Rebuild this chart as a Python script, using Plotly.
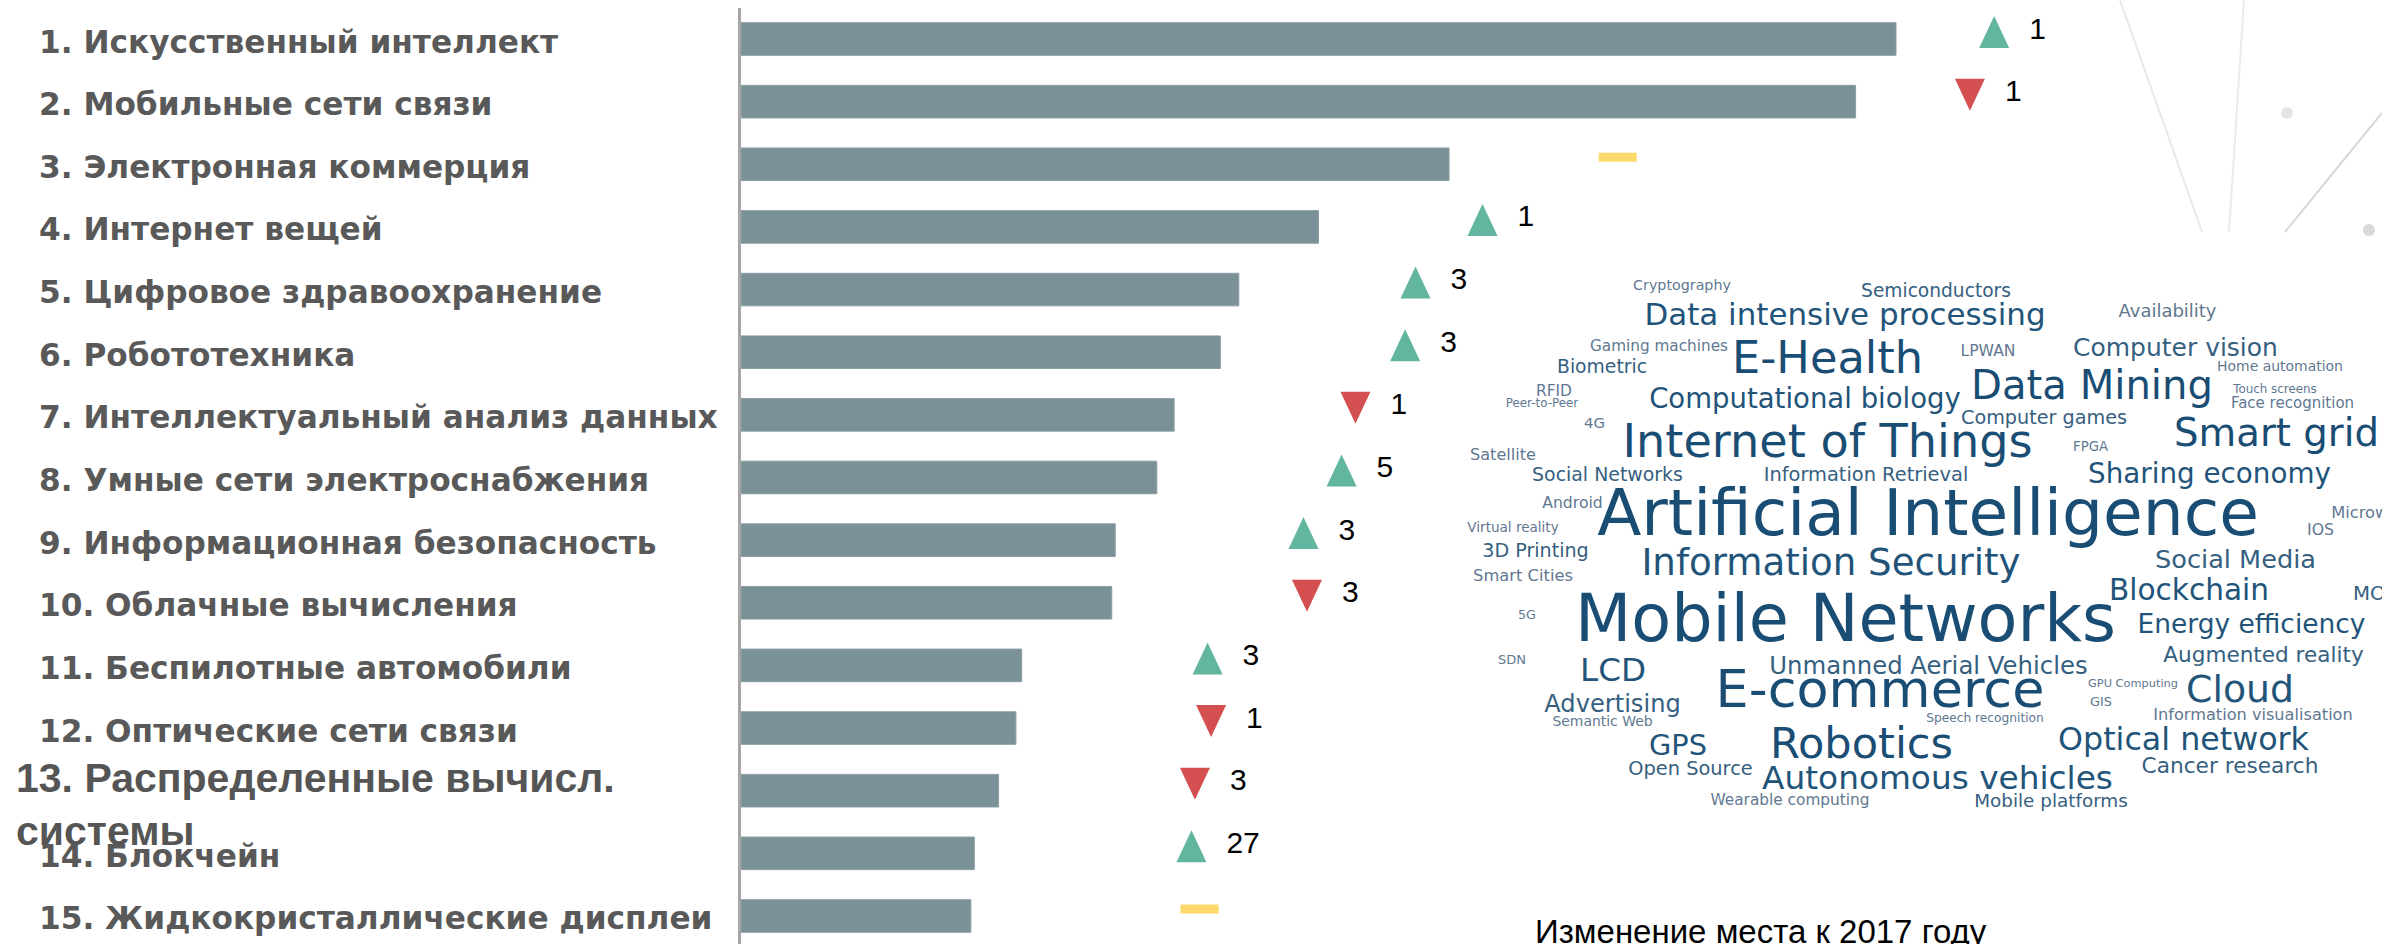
import plotly.graph_objects as go

# ---------------- data ----------------
categories = [
    "1. Искусственный интеллект",
    "2. Мобильные сети связи",
    "3. Электронная коммерция",
    "4. Интернет вещей",
    "5. Цифровое здравоохранение",
    "6. Робототехника",
    "7. Интеллектуальный анализ данных",
    "8. Умные сети электроснабжения",
    "9. Информационная безопасность",
    "10. Облачные вычисления",
    "11. Беспилотные автомобили",
    "12. Оптические сети связи",
    "13. Распределенные вычисл.<br>системы",
    "14. Блокчейн",
    "15. Жидкокристаллические дисплеи",
]
scores = [100.0, 96.5, 61.3, 50.0, 43.1, 41.5, 37.5, 36.0, 32.4, 32.1, 24.3, 23.8, 22.3, 20.2, 19.9]
rank_change = [1, -1, 0, 1, 3, 3, -1, 5, 3, -3, 3, -1, -3, 27, 0]

cloud_words = [
    "Cryptography", "Semiconductors", "Data intensive processing", "Availability",
    "Gaming machines", "E-Health", "LPWAN", "Computer vision", "Biometric",
    "Home automation", "RFID", "Peer-to-Peer", "Data Mining", "Computational biology",
    "Touch screens", "Face recognition", "Computer games", "4G", "Internet of Things",
    "FPGA", "Smart grid", "Satellite", "Social Networks", "Information Retrieval",
    "Sharing economy", "Android", "Artificial Intelligence", "Microwave",
    "Virtual reality", "IOS", "3D Printing", "Information Security", "Social Media",
    "Smart Cities", "Blockchain", "MOOC", "5G", "Mobile Networks", "Energy efficiency",
    "SDN", "LCD", "Unmanned Aerial Vehicles", "Augmented reality", "E-commerce",
    "GPU Computing", "Cloud", "Advertising", "GIS", "Semantic Web",
    "Speech recognition", "Information visualisation", "GPS", "Robotics",
    "Optical network", "Open Source", "Cancer research", "Autonomous vehicles",
    "Wearable computing", "Mobile platforms",
]

note_text = "Изменение места к 2017 году"

# ---------------- layout / styling ----------------
W, H = 2382, 944
X0_PX = 741      # pixel of the bar baseline
PX_X = 11.55     # pixels per score unit
ROW0_PX = 39     # pixel centre of first row
PX_Y = 62.64     # pixels per row

indicator_pos = [108.5, 106.4, 75.9, 64.2, 58.4, 57.5, 53.2, 52.0, 48.7, 49.0,
                 40.4, 40.7, 39.3, 39.0, 39.7]

# word-cloud boxes: (left px, right px, cap-centre px)
cloud_boxes = [
    (1633, 1731, 285), (1861, 2011, 290), (1644, 2046, 314), (2118, 2217, 310),
    (1590, 1728, 345), (1732, 1923, 357), (1960, 2016, 350), (2073, 2278, 347),
    (1557, 1647, 366), (2217, 2343, 366), (1536, 1572, 390), (1505, 1579, 403),
    (1971, 2213, 384), (1649, 1961, 398), (2232, 2318, 389), (2230, 2355, 403),
    (1961, 2127, 417), (1584, 1605, 423), (1622, 2033, 440), (2073, 2108, 446),
    (2174, 2379, 432), (1470, 1536, 454), (1532, 1683, 474), (1763, 1969, 474),
    (2088, 2331, 473), (1542, 1603, 502), (1597, 2259, 511), (2331, 2418, 512),
    (1467, 1559, 527), (2307, 2334, 529), (1482, 1589, 550), (1641, 2021, 561),
    (2155, 2316, 559), (1473, 1573, 575), (2109, 2269, 589), (2353, 2415, 593),
    (1518, 1536, 614), (1575, 2116, 617), (2137, 2366, 623), (1498, 1526, 659),
    (1580, 1646, 669), (1768, 2089, 665), (2163, 2364, 654), (1715, 2045, 688),
    (2088, 2178, 683), (2186, 2294, 688), (1544, 1681, 703), (2090, 2112, 701),
    (1552, 1653, 721), (1926, 2044, 718), (2153, 2353, 714), (1649, 1707, 744),
    (1769, 1954, 742), (2058, 2309, 738), (1628, 1753, 768), (2141, 2319, 765),
    (1762, 2113, 777), (1710, 1870, 799), (1974, 2128, 800),
]

BAR_COLOR = "#7a9198"
UP_COLOR = "#62b59f"
DOWN_COLOR = "#d44f4f"
FLAT_COLOR = "#fdd96c"
LABEL_COLOR = "#595959"

# approximate DejaVu Sans advance widths (em)
DV = {' ': .318, '-': .361, '.': .318,
      'A': .684, 'B': .686, 'C': .698, 'D': .770, 'E': .632, 'F': .575, 'G': .775,
      'H': .752, 'I': .295, 'K': .656, 'L': .557, 'M': .863, 'N': .748, 'O': .787,
      'P': .603, 'R': .695, 'S': .635, 'T': .611, 'U': .732, 'V': .684, 'W': .989,
      'a': .613, 'b': .635, 'c': .550, 'd': .635, 'e': .615, 'f': .352, 'g': .635,
      'h': .634, 'i': .278, 'j': .278, 'k': .579, 'l': .278, 'm': .974, 'n': .634,
      'o': .612, 'p': .635, 'q': .635, 'r': .411, 's': .521, 't': .392, 'u': .634,
      'v': .592, 'w': .818, 'x': .592, 'y': .592, 'z': .525}


def em_width(word):
    return sum(DV.get(ch, .636 if ch.isdigit() else .6) for ch in word)


n = len(categories)
rows = list(range(n))

fig = go.Figure()

# bars
fig.add_trace(go.Bar(
    y=rows, x=scores, orientation="h", width=0.52,
    marker=dict(color=BAR_COLOR, line=dict(color="#8a9ea3", width=1)),
    hoverinfo="skip",
))

# change indicators
tri_hw, tri_hh = 15 / PX_X, 16 / PX_Y
dash_hw, dash_hh = 19 / PX_X, 4.5 / PX_Y
ind_dy = -7 / PX_Y
up_x, up_y, dn_x, dn_y, fl_x, fl_y = [], [], [], [], [], []
for i, (c, p) in enumerate(zip(rank_change, indicator_pos)):
    cy = i + ind_dy
    if c > 0:
        up_x += [p - tri_hw, p + tri_hw, p, p - tri_hw, None]
        up_y += [cy + tri_hh, cy + tri_hh, cy - tri_hh, cy + tri_hh, None]
    elif c < 0:
        dn_x += [p - tri_hw, p + tri_hw, p, p - tri_hw, None]
        dn_y += [cy - tri_hh, cy - tri_hh, cy + tri_hh, cy - tri_hh, None]
    else:
        fl_x += [p - dash_hw, p + dash_hw, p + dash_hw, p - dash_hw, p - dash_hw, None]
        fl_y += [cy - dash_hh, cy - dash_hh, cy + dash_hh, cy + dash_hh, cy - dash_hh, None]

for xs, ys, col in [(up_x, up_y, UP_COLOR), (dn_x, dn_y, DOWN_COLOR), (fl_x, fl_y, FLAT_COLOR)]:
    fig.add_trace(go.Scatter(x=xs, y=ys, mode="lines", fill="toself", fillcolor=col,
                             line=dict(width=0, color=col), hoverinfo="skip"))

num_x = [p + 35 / PX_X for c, p in zip(rank_change, indicator_pos) if c != 0]
num_y = [i - 8 / PX_Y for i, c in enumerate(rank_change) if c != 0]
num_t = [str(abs(c)) for c in rank_change if c != 0]
fig.add_trace(go.Scatter(
    x=num_x, y=num_y, text=num_t, mode="text", textposition="middle right",
    textfont=dict(family="Liberation Sans, Arial, sans-serif", size=30, color="black"),
    hoverinfo="skip", cliponaxis=False,
))

# word cloud (pixel canvas axes)
wc_x, wc_y, wc_s, wc_c = [], [], [], []
for word, (l, r, cyp) in zip(cloud_words, cloud_boxes):
    s = (r - l) / em_width(word)
    wc_x.append((l + r) / 2)
    wc_y.append(cyp + 0.115 * s)
    wc_s.append(s)
    if s >= 38:
        wc_c.append("#1a4d74")
    elif s >= 26:
        wc_c.append("#22547a")
    elif s >= 18:
        wc_c.append("#36607f")
    else:
        wc_c.append("#5f7891")
fig.add_trace(go.Scatter(
    x=wc_x, y=wc_y, text=cloud_words, mode="text", textposition="middle center",
    textfont=dict(family="DejaVu Sans, sans-serif", size=wc_s, color=wc_c),
    xaxis="x2", yaxis="y2", hoverinfo="skip", cliponaxis=True,
))

# category labels
annotations = []
for i, lab in enumerate(categories):
    if "<br>" in lab:
        annotations.append(dict(
            text=lab, xref="paper", yref="y", x=14 / W, y=i + 0.22, xanchor="left",
            yanchor="middle", align="left", showarrow=False,
            font=dict(family="Liberation Sans, Arial, sans-serif", size=41,
                      color="#555555", weight="bold")))
    else:
        annotations.append(dict(
            text=lab, xref="paper", yref="y", x=37 / W, y=i + 2.5 / PX_Y, xanchor="left",
            yanchor="middle", showarrow=False,
            font=dict(family="DejaVu Sans, sans-serif", size=31.2, color=LABEL_COLOR,
                      weight="bold")))

annotations.append(dict(
    text=note_text, xref="x2", yref="y2", x=1533, y=931, xanchor="left",
    yanchor="middle", showarrow=False,
    font=dict(family="Liberation Sans, Arial, sans-serif", size=33, color="black")))

shapes = [
    dict(type="line", xref="x2", yref="y2", x0=739.5, x1=739.5, y0=8, y1=H,
         line=dict(color="#a6a6a6", width=3)),
    dict(type="line", xref="x2", yref="y2", x0=2120, y0=0, x1=2202, y1=232,
         line=dict(color="#e8e8e8", width=2)),
    dict(type="line", xref="x2", yref="y2", x0=2244, y0=0, x1=2229, y1=232,
         line=dict(color="#ebebeb", width=2)),
    dict(type="line", xref="x2", yref="y2", x0=2382, y0=113, x1=2285, y1=232,
         line=dict(color="#d6d6d6", width=2)),
    dict(type="circle", xref="x2", yref="y2", x0=2281, y0=107, x1=2293, y1=119,
         fillcolor="#e4e4e4", line=dict(width=0)),
    dict(type="circle", xref="x2", yref="y2", x0=2363, y0=224, x1=2375, y1=236,
         fillcolor="#d9d9d9", line=dict(width=0)),
]

fig.update_layout(
    width=W, height=H, margin=dict(l=0, r=0, t=0, b=0, pad=0),
    paper_bgcolor="white", plot_bgcolor="white", showlegend=False,
    xaxis=dict(domain=[0, 1], range=[-X0_PX / PX_X, (W - X0_PX) / PX_X], visible=False,
               fixedrange=True),
    yaxis=dict(domain=[0, 1], range=[(H - ROW0_PX) / PX_Y, -ROW0_PX / PX_Y], visible=False,
               fixedrange=True),
    xaxis2=dict(domain=[0, 1], range=[0, W], overlaying="x", visible=False, fixedrange=True),
    yaxis2=dict(domain=[0, 1], range=[H, 0], overlaying="y", visible=False, fixedrange=True),
    annotations=annotations, shapes=shapes,
)

fig.write_html(
    "out.html",
    config={"displayModeBar": False},
    post_script="document.body.style.margin='0px';document.body.style.overflow='hidden';",
)
